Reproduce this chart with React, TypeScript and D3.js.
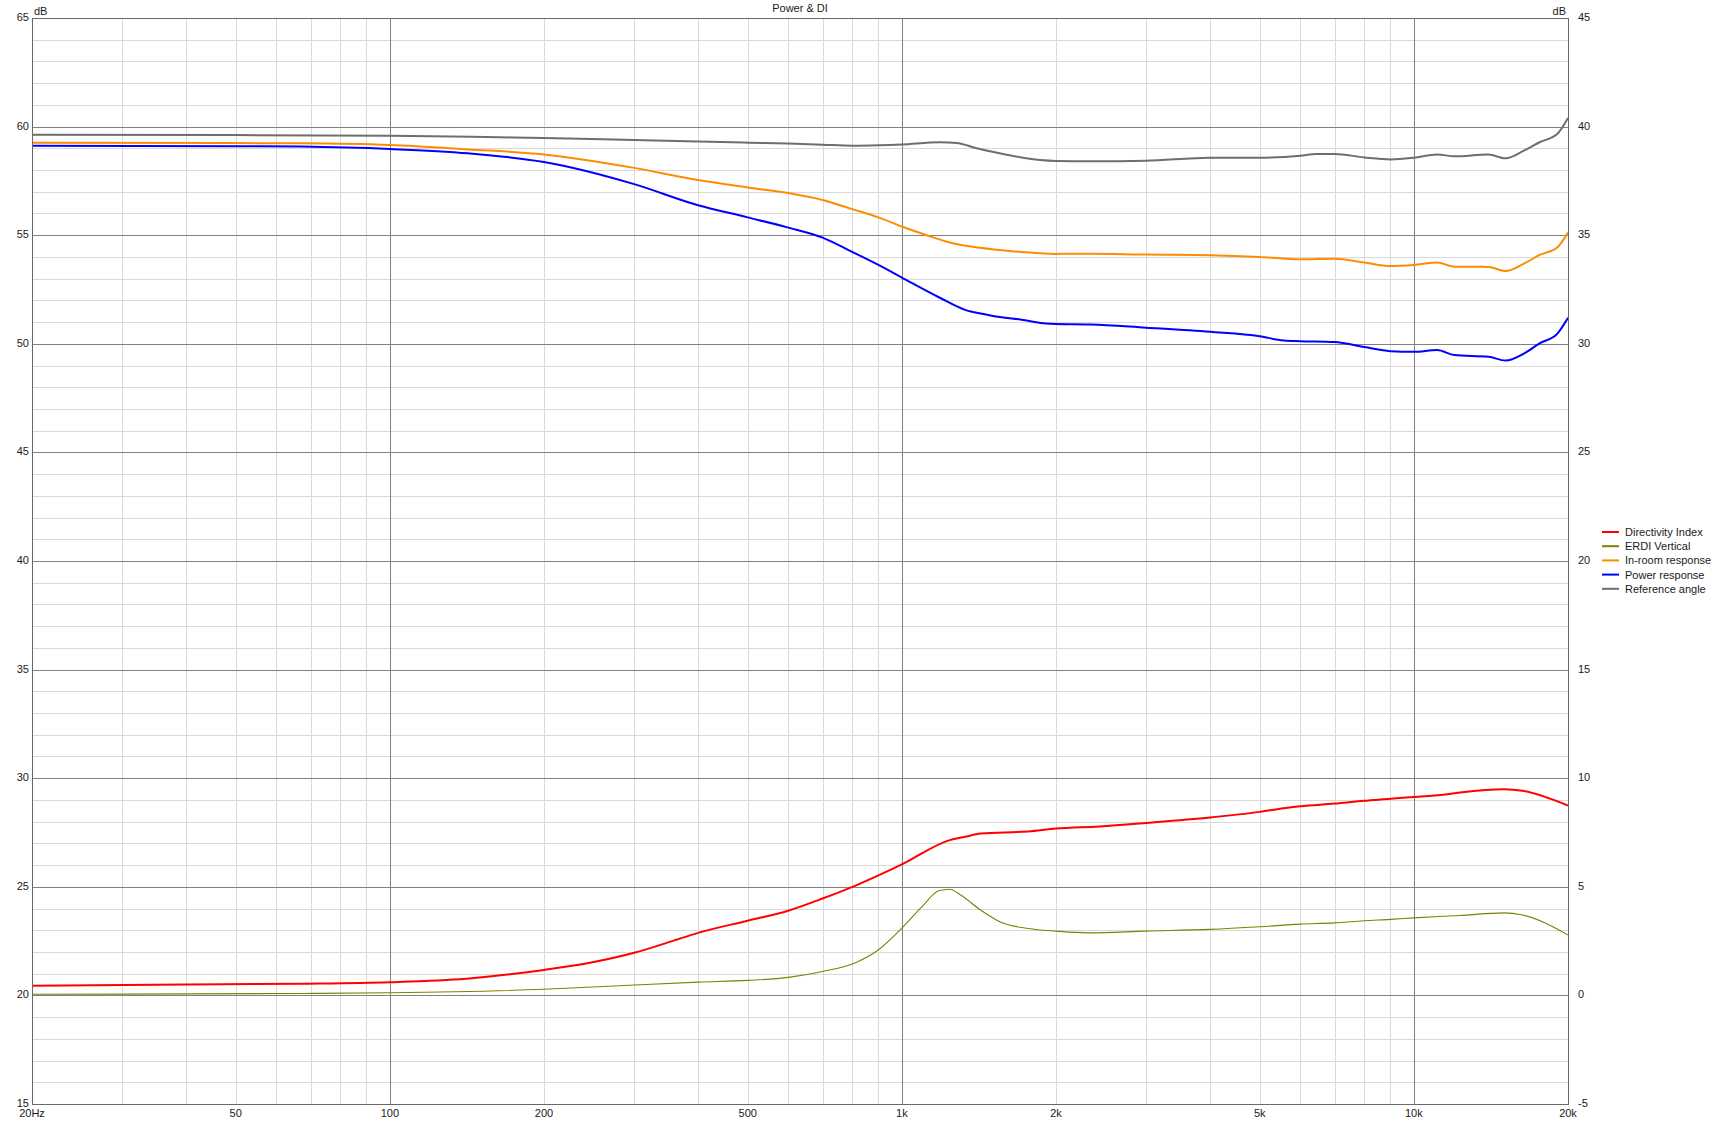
import React from "react";
import * as d3 from "d3";

// frequency response data read off the REW "Power & DI" plot
// [Hz, dB] - main curves use the left axis, DI curves the right axis

const referenceAngle: [number, number][] = [
  [20, 59.62], [50, 59.61], [100, 59.58], [164, 59.51], [200, 59.48], [300, 59.38],
  [400, 59.31], [500, 59.26], [600, 59.22], [700, 59.17], [800, 59.12], [900, 59.14],
  [1000, 59.18], [1186, 59.28], [1280, 59.25], [1400, 59.0], [1552, 58.77], [1712, 58.58],
  [2000, 58.42], [2338, 58.4], [3000, 58.43], [4000, 58.57], [5000, 58.57], [6000, 58.66],
  [6457, 58.74], [7000, 58.74], [8000, 58.58], [9000, 58.49], [10000, 58.57], [11100, 58.72],
  [12000, 58.63], [13970, 58.71], [15100, 58.54], [16400, 58.89], [17600, 59.28],
  [19050, 59.66], [20000, 60.4],
];

const inRoom: [number, number][] = [
  [20, 59.26], [50, 59.24], [67, 59.23], [100, 59.15], [142, 58.95], [200, 58.72],
  [300, 58.1], [400, 57.54], [500, 57.2], [600, 56.94], [700, 56.62], [800, 56.2],
  [900, 55.82], [1000, 55.4], [1118, 55.0], [1219, 54.71], [1333, 54.51], [1552, 54.32],
  [1712, 54.23], [2000, 54.14], [2338, 54.15], [3000, 54.11], [4000, 54.08], [5000, 54.0],
  [6000, 53.89], [7000, 53.92], [8000, 53.74], [9000, 53.58], [10000, 53.63], [11100, 53.74],
  [12000, 53.55], [14000, 53.54], [15100, 53.35], [16400, 53.69], [17600, 54.09],
  [19050, 54.43], [20000, 55.12],
];

const power: [number, number][] = [
  [20, 59.12], [50, 59.1], [67, 59.08], [100, 58.97], [142, 58.77], [200, 58.37],
  [300, 57.35], [400, 56.38], [500, 55.82], [600, 55.35], [700, 54.89], [800, 54.23],
  [900, 53.63], [1000, 53.05], [1186, 52.12], [1333, 51.55], [1435, 51.38], [1552, 51.23],
  [1712, 51.11], [1888, 50.95], [2000, 50.91], [2338, 50.89], [3000, 50.74], [4000, 50.55],
  [5000, 50.35], [5572, 50.15], [6000, 50.12], [7000, 50.08], [8000, 49.85], [9000, 49.66],
  [10000, 49.63], [11100, 49.71], [12000, 49.48], [14000, 49.4], [15100, 49.23],
  [16400, 49.55], [17600, 50.02], [19050, 50.46], [20000, 51.2],
];

const directivity: [number, number][] = [
  [20, 0.45], [40, 0.5], [67, 0.54], [100, 0.61], [141, 0.77], [200, 1.17], [246, 1.5],
  [300, 1.96], [356, 2.5], [400, 2.88], [500, 3.44], [600, 3.9], [700, 4.46], [816, 5.08],
  [1000, 6.03], [1240, 7.15], [1327, 7.3], [1425, 7.45], [1766, 7.55], [2000, 7.68],
  [2432, 7.78], [3000, 7.94], [4000, 8.19], [5000, 8.45], [5620, 8.63], [6000, 8.71],
  [7000, 8.83], [8000, 8.96], [9000, 9.05], [10000, 9.14], [11300, 9.23], [12300, 9.34],
  [15000, 9.49], [16300, 9.42], [20000, 8.74],
];

const erdiVertical: [number, number][] = [
  [20, 0.05], [67, 0.09], [100, 0.12], [200, 0.28], [300, 0.48], [400, 0.61], [500, 0.69],
  [600, 0.83], [700, 1.1], [816, 1.53], [899, 2.09], [1000, 3.1], [1097, 4.11], [1180, 4.82],
  [1240, 4.89], [1303, 4.62], [1425, 3.93], [1561, 3.37], [1766, 3.08], [2000, 2.96],
  [2307, 2.88], [3000, 2.96], [4000, 3.04], [5000, 3.16], [6000, 3.28], [7000, 3.34],
  [8000, 3.44], [9000, 3.5], [10000, 3.57], [12300, 3.68], [15000, 3.8], [16300, 3.7],
  [20000, 2.78],
];

const xTicks = [20, 50, 100, 200, 500, 1000, 2000, 5000, 10000, 20000];
const xTickLabels = ["20Hz", "50", "100", "200", "500", "1k", "2k", "5k", "10k", "20k"];
const leftTicks = [65, 60, 55, 50, 45, 40, 35, 30, 25, 20, 15];
const rightTicks = [45, 40, 35, 30, 25, 20, 15, 10, 5, 0, -5];

const legendNames = ["Directivity Index", "ERDI Vertical", "In-room response", "Power response", "Reference angle"];
const legendColors = ["#ff0000", "#808000", "#ff8c00", "#0000ff", "#6e6e6e"];

export default function App() {
  const W = 1720;
  const H = 1122;
  const left = 32, right = 1568, top = 18, bottom = 1104;
  const font = "'Liberation Sans', Arial, sans-serif";

  const x = d3.scaleLog().domain([20, 20000]).range([left, right]);
  const yL = d3.scaleLinear().domain([15, 65]).range([bottom, top]);
  const yR = d3.scaleLinear().domain([-5, 45]).range([bottom, top]);

  const lineL = d3.line<[number, number]>().x(d => x(d[0])).y(d => yL(d[1])).curve(d3.curveMonotoneX);
  const lineR = d3.line<[number, number]>().x(d => x(d[0])).y(d => yR(d[1])).curve(d3.curveMonotoneX);

  // minor vertical grid: 30..90, 200..900, 2k..9k
  const minorX: number[] = [];
  [10, 100, 1000].forEach(dec => {
    for (let k = 2; k <= 9; k++) {
      const f = dec * k;
      if (f > 20) minorX.push(f);
    }
  });
  const majorX = [100, 1000, 10000];
  const minorY = d3.range(16, 65).filter(v => v % 5 !== 0);
  const majorY = d3.range(20, 65, 5);

  return (
    <div style={{ position: "absolute", left: 0, top: 0 }}>
      <svg width={W} height={H} style={{ display: "block", background: "#fff" }}>
        <defs>
          <clipPath id="plot">
            <rect x={left} y={top} width={right - left} height={bottom - top} />
          </clipPath>
        </defs>

        <g shapeRendering="crispEdges">
          {minorY.map(v => (
            <line key={"my" + v} x1={left} x2={right} y1={Math.round(yL(v)) + 0.5} y2={Math.round(yL(v)) + 0.5} stroke="#d9d9d9" />
          ))}
          {minorX.map(f => (
            <line key={"mx" + f} y1={top} y2={bottom} x1={Math.round(x(f)) + 0.5} x2={Math.round(x(f)) + 0.5} stroke="#d9d9d9" />
          ))}
          {majorY.map(v => (
            <line key={"My" + v} x1={left} x2={right} y1={Math.round(yL(v)) + 0.5} y2={Math.round(yL(v)) + 0.5} stroke="#808080" />
          ))}
          {majorX.map(f => (
            <line key={"Mx" + f} y1={top} y2={bottom} x1={Math.round(x(f)) + 0.5} x2={Math.round(x(f)) + 0.5} stroke="#808080" />
          ))}
        </g>

        <g clipPath="url(#plot)" fill="none" strokeLinejoin="round">
          <path d={lineL(referenceAngle) || ""} stroke={legendColors[4]} strokeWidth={2} />
          <path d={lineL(inRoom) || ""} stroke={legendColors[2]} strokeWidth={2} />
          <path d={lineL(power) || ""} stroke={legendColors[3]} strokeWidth={2} />
          <path d={lineR(erdiVertical) || ""} stroke={legendColors[1]} strokeWidth={1.1} />
          <path d={lineR(directivity) || ""} stroke={legendColors[0]} strokeWidth={2} />
        </g>

        <rect x={left + 0.5} y={top + 0.5} width={right - left} height={bottom - top} fill="none" stroke="#696969" shapeRendering="crispEdges" />

        <g fontFamily={font} fontSize={11} fill="#1a1a1a">
          <text x={800} y={12} textAnchor="middle">Power &amp; DI</text>
          <text x={left + 2} y={15}>dB</text>
          <text x={right - 2} y={15} textAnchor="end">dB</text>
          {leftTicks.map(v => (
            <text key={"l" + v} x={29} y={yL(v) + 3} textAnchor="end">{v}</text>
          ))}
          {rightTicks.map(v => (
            <text key={"r" + v} x={1578} y={yR(v) + 3}>{v}</text>
          ))}
          {xTicks.map((f, i) => (
            <text key={"x" + f} x={x(f)} y={1117} textAnchor="middle">{xTickLabels[i]}</text>
          ))}
        </g>

        <g fontFamily={font} fontSize={11} fill="#1a1a1a">
          {legendNames.map((name, i) => {
            const cy = 532 + i * 14.2;
            return (
              <g key={name}>
                <line x1={1602} x2={1619} y1={cy} y2={cy} stroke={legendColors[i]} strokeWidth={2} />
                <text x={1625} y={cy + 4}>{name}</text>
              </g>
            );
          })}
        </g>
      </svg>
    </div>
  );
}
